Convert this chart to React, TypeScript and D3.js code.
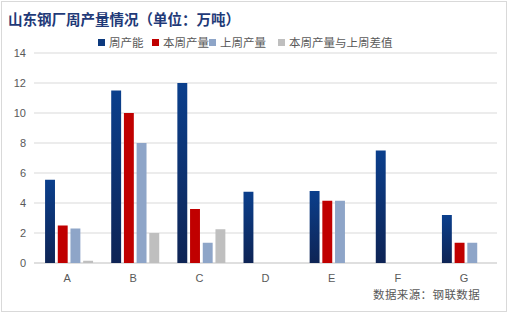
import React from "react";
import * as d3 from "d3";

const categories = ["A", "B", "C", "D", "E", "F", "G"];
const seriesNames = ["周产能", "本周产量", "上周产量", "本周产量与上周差值"];
const capacity = [5.55, 11.5, 12, 4.75, 4.8, 7.5, 3.2];
const thisWeek = [2.5, 10, 3.6, 0, 4.15, 0, 1.35];
const lastWeek = [2.3, 8, 1.35, 0, 4.15, 0, 1.35];
const diff = [0.15, 2, 2.25, 0, 0, 0, 0];
const yTicks = [0, 2, 4, 6, 8, 10, 12, 14];
const colors = ["url(#gBlue)", "#c00000", "#8ea5c8", "#bfbfbf"];
const legendColors = ["#0d3a7e", "#c00000", "#8ea5c8", "#bfbfbf"];

const W = 509, H = 313;
const left = 34, right = 497, top = 53, bottom = 263;

export default function App() {
  const series = [capacity, thisWeek, lastWeek, diff];
  const x = d3.scaleBand<string>().domain(categories).range([left, right]);
  const xi = d3.scaleBand<number>().domain([0, 1, 2, 3]).range([0, 48]).paddingInner(0.22);
  const y = d3.scaleLinear().domain([0, 14]).range([bottom, top]);
  const cn = "'Noto Sans CJK SC', sans-serif";
  const legendX = [98, 152, 209, 278];
  return (
    <svg width={W} height={H} style={{ position: "absolute", left: 0, top: 0, background: "#fff" }}>
      <defs>
        <linearGradient id="gBlue" x1="0" y1="0" x2="0" y2="1">
          <stop offset="0%" stopColor="#0b3f8c" />
          <stop offset="100%" stopColor="#0e2455" />
        </linearGradient>
      </defs>
      <rect x={1.5} y={1.5} width={505} height={310} fill="#fff" stroke="#d9d9d9" />
      <text x={8} y={25} fontFamily={cn} fontWeight="bold" fontSize={14.5} fill="#1f3a78">
        山东钢厂周产量情况（单位：万吨）
      </text>
      {seriesNames.map((s, i) => (
        <g key={s}>
          <rect x={legendX[i]} y={39} width={7} height={7} fill={legendColors[i]} />
          <text x={legendX[i] + 11} y={46.5} fontFamily={cn} fontSize={11.5} fill="#595959">{s}</text>
        </g>
      ))}
      {yTicks.map((t) => (
        <g key={t}>
          <line x1={left} x2={right} y1={y(t)} y2={y(t)} stroke={t === 0 ? "#bfbfbf" : "#d9d9d9"} strokeWidth={1} />
          <text x={26} y={y(t) + 4} textAnchor="end" fontFamily="'Liberation Sans', Arial, sans-serif" fontSize={11} fill="#595959">{t}</text>
        </g>
      ))}
      {categories.map((c, ci) => {
        const cx = x(c)! + x.bandwidth() / 2 - 22;
        return (
          <g key={c}>
            {series.map((s, si) =>
              s[ci] > 0 ? (
                <rect key={si} x={cx + xi(si)!} y={y(s[ci])} width={xi.bandwidth()} height={bottom - y(s[ci])} fill={colors[si]} />
              ) : null
            )}
            <text x={x(c)! + x.bandwidth() / 2} y={282} textAnchor="middle" fontFamily="'Liberation Sans', Arial, sans-serif" fontSize={11} fill="#595959">{c}</text>
          </g>
        );
      })}
      <text x={373} y={299} fontFamily={cn} fontSize={11.5} letterSpacing={0.4} fill="#595959">数据来源：钢联数据</text>
    </svg>
  );
}
